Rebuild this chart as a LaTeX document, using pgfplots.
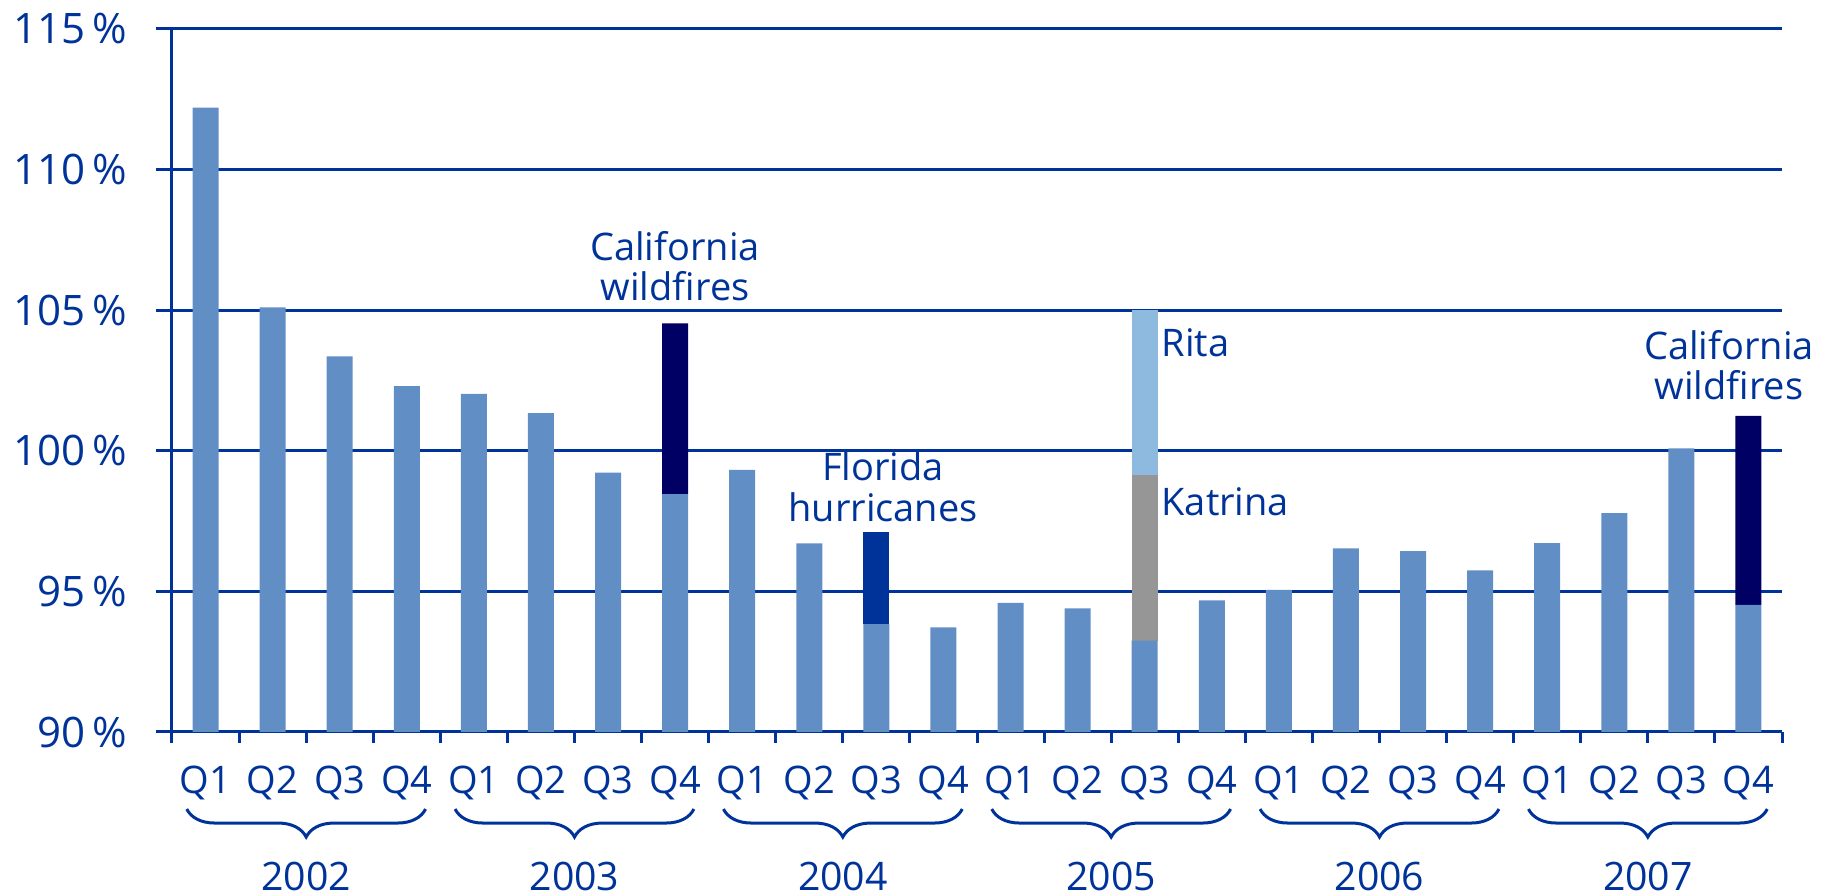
\documentclass[border=0pt]{standalone}
\usepackage{pgfplots}
\pgfplotsset{compat=1.18}
\usepackage{pgfplotstable}
\usepackage{fontspec}
\setmainfont{Open Sans}
\usetikzlibrary{decorations.pathreplacing}

\definecolor{txtblue}{RGB}{0,51,153}
\definecolor{barblue}{RGB}{98,142,198}
\definecolor{firenavy}{RGB}{0,0,100}
\definecolor{flblue}{RGB}{0,51,153}
\definecolor{katgray}{RGB}{150,150,150}
\definecolor{ritablue}{RGB}{143,186,224}

% combined ratio by quarter, catastrophe load stacked on top
\pgfplotstableread{
x  base   fire  florida katrina rita
0  112.2  0     0       0       0
1  105.1  0     0       0       0
2  103.36 0     0       0       0
3  102.3  0     0       0       0
4  102.02 0     0       0       0
5  101.34 0     0       0       0
6  99.22  0     0       0       0
7  98.46  6.07  0       0       0
8  99.32  0     0       0       0
9  96.71  0     0       0       0
10 93.84  0     3.26    0       0
11 93.72  0     0       0       0
12 94.59  0     0       0       0
13 94.40  0     0       0       0
14 93.25  0     0       5.89    5.86
15 94.68  0     0       0       0
16 95.05  0     0       0       0
17 96.53  0     0       0       0
18 96.43  0     0       0       0
19 95.75  0     0       0       0
20 96.72  0     0       0       0
21 97.78  0     0       0       0
22 100.09 0     0       0       0
23 94.52  6.72  0       0       0
}\ratios

\begin{document}
\begin{tikzpicture}[font=\fontsize{9.5}{11}\selectfont, text=txtblue]
\begin{axis}[
    at={(0,0)}, anchor=south west,
    scale only axis,
    width=402.5pt, height=175.75pt,
    ybar stacked,
    bar width=6.5pt,
    clip mode=individual,
    xmin=-0.5, xmax=23.5,
    ymin=90, ymax=115,
    axis lines=left,
    axis line style={-, line width=0.75pt, txtblue},
    xtick={0,...,23},
    xticklabels={Q1,Q2,Q3,Q4,Q1,Q2,Q3,Q4,Q1,Q2,Q3,Q4,Q1,Q2,Q3,Q4,Q1,Q2,Q3,Q4,Q1,Q2,Q3,Q4},
    xtick style={draw=none},
    xticklabel style={anchor=base, yshift=-11.5pt, inner sep=0pt},
    extra x ticks={-0.5,0.5,...,23.5},
    extra x tick labels={},
    extra x tick style={grid=none, major tick length=2.75pt, tick align=outside,
        xtick style={draw=txtblue, line width=0.75pt}},
    ytick={90,95,...,115},
    yticklabel={\pgfmathprintnumber{\tick}\,\%},
    /pgf/number format/assume math mode=true,
    yticklabel style={font=\fontsize{10.5}{12}\selectfont, anchor=east, inner sep=0pt, xshift=-7pt},
    tick align=outside,
    major tick length=4pt,
    ytick style={draw=txtblue, line width=0.75pt},
    ymajorgrids=true,
    major grid style={line width=0.75pt, txtblue},
    tick label style={text=txtblue},
]
\addplot[fill=barblue, draw=none] table[x=x, y=base] {\ratios};
\addplot[fill=firenavy, draw=none] table[x=x, y=fire] {\ratios};
\addplot[fill=flblue, draw=none] table[x=x, y=florida] {\ratios};
\addplot[fill=katgray, draw=none] table[x=x, y=katrina] {\ratios};
\addplot[fill=ritablue, draw=none] table[x=x, y=rita] {\ratios};

% year braces
\pgfplotsinvokeforeach{0,...,5}{
  \draw[txtblue, line width=0.75pt, decorate, decoration={brace, mirror, amplitude=7pt}]
    (axis cs:4*#1-0.28,87.26) -- (axis cs:4*#1+3.28,87.26);
  \node[anchor=base, inner sep=0pt, font=\fontsize{9.8}{11}\selectfont] at (axis cs:4*#1+1.5,84.38) {\number\numexpr2002+#1\relax};
}

% event annotations
\node[anchor=base] at (axis cs:7,106.76) {California};
\node[anchor=base] at (axis cs:7,105.36) {wildfires};
\node[anchor=base] at (axis cs:10.1,98.94) {Florida};
\node[anchor=base] at (axis cs:10.1,97.48) {hurricanes};
\node[anchor=base west, inner sep=0pt] at (axis cs:14.24,103.37) {Rita};
\node[anchor=base west, inner sep=0pt] at (axis cs:14.24,97.71) {Katrina};
\node[anchor=base] at (axis cs:22.71,103.23) {California};
\node[anchor=base] at (axis cs:22.71,101.81) {wildfires};
\end{axis}
\path (-43pt,-41pt) rectangle (414.25pt,183pt);
\end{tikzpicture}
\end{document}
